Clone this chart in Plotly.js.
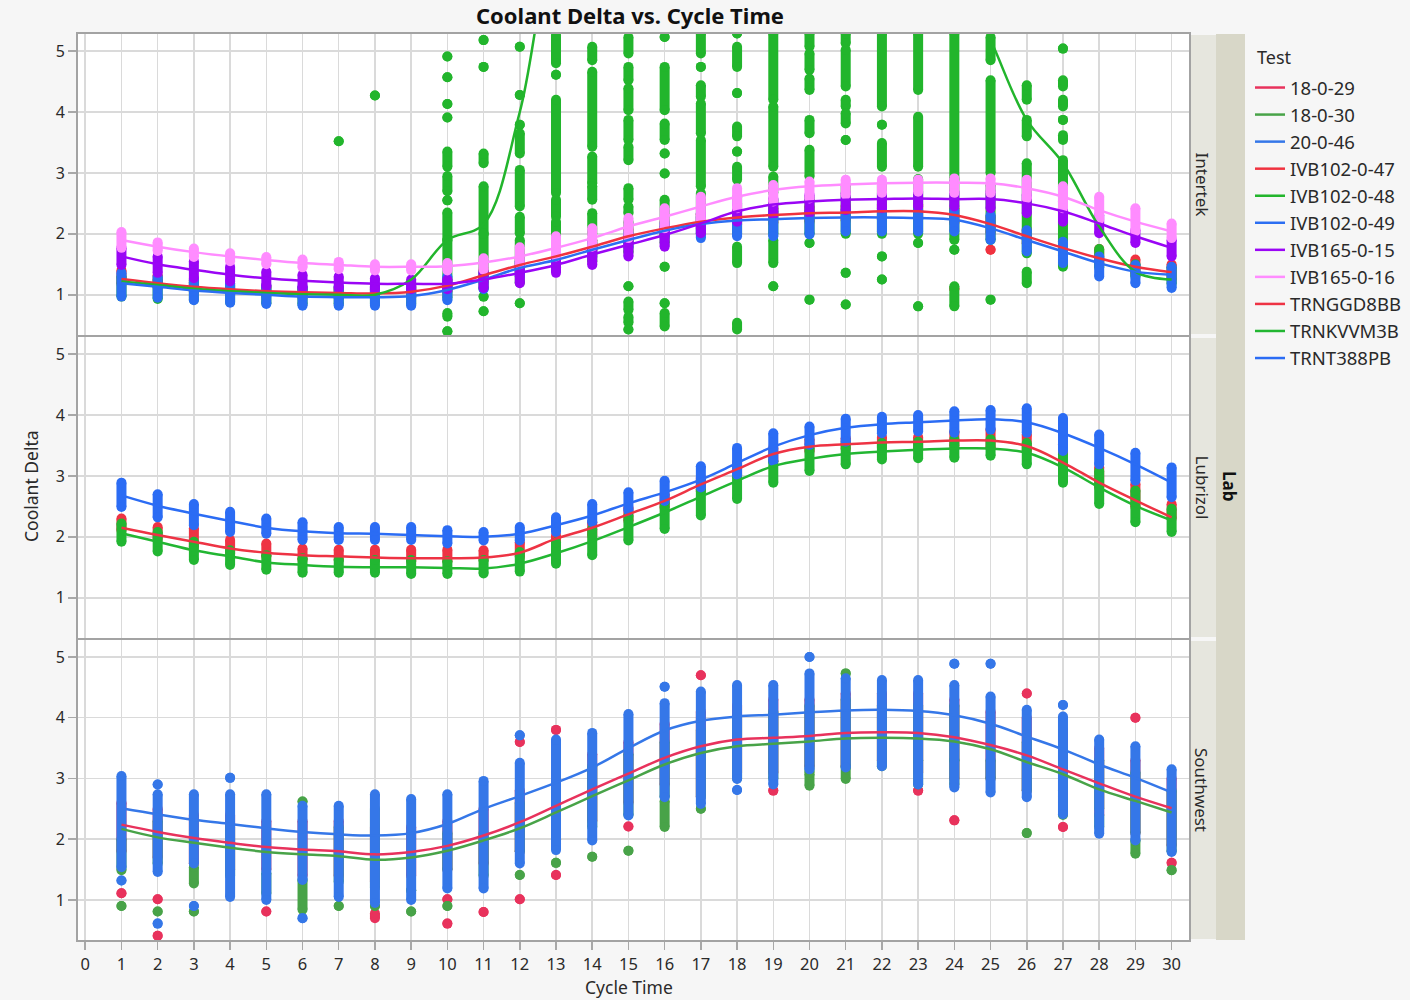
<!DOCTYPE html>
<html>
<head>
<meta charset="utf-8">
<script src="https://cdn.plot.ly/plotly-3.0.1.min.js"></script>
<style>html,body{margin:0;padding:0;background:#f6f6f6;}#chart{width:1410px;height:1000px;}</style>
</head>
<body>
<div id="chart"></div>
<script>
// ---------- DATA ----------
const cycles = [1,2,3,4,5,6,7,8,9,10,11,12,13,14,15,16,17,18,19,20,21,22,23,24,25,26,27,28,29,30];
const xTicks = [0,1,2,3,4,5,6,7,8,9,10,11,12,13,14,15,16,17,18,19,20,21,22,23,24,25,26,27,28,29,30];
const yTicks = [1,2,3,4,5];
const labs = ['Intertek','Lubrizol','Southwest'];
const tests = ['18-0-29','18-0-30','20-0-46','IVB102-0-47','IVB102-0-48','IVB102-0-49','IVB165-0-15','IVB165-0-16','TRNGGD8BB','TRNKVVM3B','TRNT388PB'];
const testLab = ['Southwest','Southwest','Southwest','Intertek','Intertek','Intertek','Intertek','Intertek','Lubrizol','Lubrizol','Lubrizol'];
const testColor = ['#e8325c','#48a348','#3577e8','#f0323f','#22b52c','#2b6ef2','#9a05f5','#ff8cff','#ee3344','#22b632','#2b6cf4'];

// smooth fit values at each cycle
const fit_18_0_29 = [2.24,2.12,2.02,1.94,1.87,1.83,1.80,1.75,1.79,1.89,2.06,2.28,2.55,2.82,3.08,3.34,3.53,3.64,3.67,3.70,3.75,3.76,3.75,3.68,3.55,3.38,3.15,2.92,2.70,2.51];
const fit_18_0_30 = [2.17,2.03,1.94,1.86,1.79,1.75,1.72,1.66,1.70,1.81,1.98,2.18,2.44,2.71,2.97,3.23,3.42,3.53,3.57,3.61,3.66,3.67,3.66,3.61,3.48,3.27,3.07,2.82,2.63,2.44];
const fit_20_0_46 = [2.51,2.41,2.32,2.25,2.18,2.12,2.08,2.06,2.10,2.25,2.50,2.71,2.93,3.18,3.50,3.79,3.95,4.02,4.05,4.09,4.12,4.13,4.11,4.04,3.90,3.69,3.48,3.23,3.01,2.77];
const fit_IVB102_0_47 = [1.26,1.19,1.13,1.09,1.06,1.04,1.03,1.02,1.05,1.15,1.32,1.49,1.63,1.79,1.96,2.09,2.20,2.27,2.31,2.34,2.35,2.37,2.37,2.31,2.16,1.96,1.77,1.60,1.46,1.37];
const fit_IVB102_0_48 = [1.22,1.16,1.10,1.06,1.03,1.01,1.00,1.00,1.25,1.90,2.16,4.00,6.80,7.60,7.90,8.00,8.10,8.10,8.00,7.90,7.80,7.60,7.20,6.40,5.18,3.87,3.16,2.12,1.38,1.25];
const fit_IVB102_0_49 = [1.19,1.13,1.07,1.03,1.00,0.97,0.96,0.96,0.98,1.08,1.25,1.44,1.57,1.74,1.90,2.05,2.16,2.22,2.24,2.26,2.27,2.27,2.26,2.23,2.09,1.90,1.71,1.52,1.38,1.33];
const fit_IVB165_0_15 = [1.63,1.50,1.41,1.33,1.27,1.23,1.20,1.18,1.18,1.18,1.25,1.36,1.49,1.66,1.82,1.98,2.17,2.37,2.48,2.53,2.56,2.57,2.58,2.57,2.57,2.50,2.37,2.17,1.96,1.77];
const fit_IVB165_0_16 = [1.90,1.79,1.70,1.63,1.57,1.52,1.49,1.46,1.46,1.47,1.53,1.63,1.77,1.93,2.12,2.28,2.45,2.61,2.72,2.78,2.81,2.83,2.84,2.84,2.83,2.75,2.61,2.39,2.20,2.04];
const fit_TRNGGD8BB = [2.15,2.03,1.92,1.81,1.74,1.70,1.68,1.66,1.65,1.65,1.66,1.74,1.97,2.15,2.37,2.59,2.86,3.11,3.36,3.48,3.52,3.55,3.56,3.58,3.58,3.49,3.22,2.89,2.60,2.32];
const fit_TRNKVVM3B = [2.06,1.92,1.78,1.68,1.58,1.54,1.51,1.50,1.50,1.49,1.48,1.56,1.73,1.93,2.16,2.40,2.66,2.92,3.16,3.28,3.36,3.40,3.43,3.45,3.45,3.38,3.14,2.81,2.51,2.27];
const fit_TRNT388PB = [2.68,2.51,2.38,2.26,2.15,2.09,2.06,2.05,2.03,2.01,2.00,2.05,2.19,2.35,2.55,2.73,2.94,3.21,3.48,3.67,3.79,3.85,3.88,3.91,3.93,3.88,3.70,3.46,3.19,2.89];

// observed points per cycle: each [lo,hi] is a stack of overlapping dots, [v] a single dot
const pts_18_0_29 = [[[1.8,2.6],[1.11]],[[1.7,2.5],[1.01],[0.41]],[[1.6,2.4]],[[1.5,2.4]],[[1.5,2.3],[0.81]],[[1.4,2.3]],[[1.4,2.3]],[[1.3,2.2],[0.70,0.78]],[[1.4,2.2]],[[1.5,2.3],[1.01],[0.61]],
 [[1.6,2.5],[0.80]],[[3.60],[1.8,2.8],[1.01]],[[3.80],[2.0,3.1],[1.93],[1.41]],[[2.3,3.4]],[[2.6,3.6],[2.21]],[[2.9,3.9]],[[4.70],[2.7,4.1]],[[3.1,4.2]],[[2.80],[3.1,4.3]],[[3.2,4.3]],
 [[3.2,4.4]],[[3.3,4.4]],[[2.80],[3.1,4.4]],[[2.31],[3.0,4.3]],[[3.0,4.1]],[[4.40],[2.8,4.0]],[[2.20],[2.6,3.8]],[[2.4,3.5]],[[4.00],[2.1,3.3]],[[1.61],[1.9,3.0]]];
const pts_18_0_30 = [[[1.49,2.0],[0.90]],[[1.6,2.3],[0.81]],[[1.27,1.54],[0.81]],[[1.4,2.2]],[[1.11,1.44]],[[2.62],[0.84,1.33]],[[0.90],[1.3,2.2]],[[0.90],[1.2,2.5]],[[1.16],[0.81]],[[0.90],[1.5,2.1]],
 [[1.4,2.1]],[[1.41],[1.8,2.6]],[[1.61],[2.0,2.9]],[[1.71],[2.2,3.2]],[[1.81],[2.4,3.4]],[[2.20,2.63],[2.7,3.6]],[[2.50],[2.7,3.8]],[[3.0,4.0]],[[3.0,4.1]],[[2.88,3.07],[3.1,4.2]],
 [[4.73],[2.99,3.18],[3.2,4.3]],[[3.2,4.2]],[[2.9,3.3],[3.3,4.2]],[[2.9,3.3],[3.3,4.2]],[[3.0,3.3]],[[2.10],[2.8,3.6]],[[2.4,2.7],[2.8,3.5]],[[2.2,2.4],[2.5,3.3]],[[1.76,1.98],[2.1,3.1]],[[1.49],[1.8,2.8]]];
const pts_20_0_46 = [[[1.54,3.04],[1.32]],[[2.90],[1.46,2.74],[0.61]],[[1.60,2.74],[0.90]],[[3.01],[1.05,2.74]],[[1.00,2.74]],[[1.33,2.55],[0.70]],[[1.05,2.55]],[[0.95,2.74]],[[1.00,2.66]],[[1.19,2.74]],
 [[1.19,2.96]],[[3.71],[1.60,3.26]],[[1.82,3.64]],[[1.98,3.75]],[[2.39,4.06]],[[4.51],[2.69,4.24]],[[2.58,4.43]],[[2.99,4.54],[2.81]],[[2.90,4.54]],[[5.00],[3.15,4.73]],
 [[3.18,4.65]],[[3.20,4.62]],[[2.90,4.62]],[[4.89],[2.85,4.54]],[[4.89],[2.77,4.35]],[[2.69,4.13]],[[4.21],[2.41,4.02]],[[2.09,3.64]],[[1.98,3.53]],[[1.79,3.15]]];
const pts_IVB102_0_47 = [[[1.18,1.40]],[[1.12,1.32]],[[1.05,1.24]],[[1.00,1.18]],[[0.98,1.15]],[[0.96,1.12]],[[0.95,1.12]],[[0.94,1.12]],[[0.96,1.14]],[[1.05,1.25]],
 [[1.20,1.42]],[[1.38,1.60]],[[1.52,1.74]],[[1.68,1.90]],[[1.85,2.08]],[[1.98,2.20]],[[2.08,2.32]],[[2.15,2.40]],[[2.18,2.42]],[[2.20,2.45]],
 [[2.22,2.46]],[[2.24,2.48]],[[2.24,2.48]],[[2.18,2.42],[1.10]],[[2.02,2.28],[1.74]],[[1.84,2.08]],[[1.65,1.88]],[[1.48,1.75]],[[1.35,1.58]],[[1.25,1.50]]];
const pts_IVB102_0_48 = [[[0.97,1.30]],[[0.93,1.25]],[[0.92,1.20]],[[0.88,1.15]],[[0.86,1.12]],[[0.85,1.10]],[[0.85,1.10],[3.52]],[[0.85,1.10],[4.27]],[[0.85,1.12]],
 [[4.91],[4.57],[4.13],[3.91],[3.10,3.35],[2.70,2.95],[2.55],[1.90,2.35],[0.95,1.90],[0.64,0.70],[0.40]],
 [[5.18],[4.74],[3.16,3.32],[2.00,2.78],[1.10,2.00],[0.97],[0.73]],
 [[5.07],[4.28],[3.79],[3.32,3.65],[2.45,3.05],[2.01,2.28],[1.20,1.90],[0.86]],
 [[4.80,5.26],[4.61],[2.67,4.20],[2.28,2.56],[1.45,2.20]],
 [[4.85,5.07],[3.43,4.66],[2.83,3.27],[2.56,2.78],[2.00,2.34],[1.55,1.90]],
 [[4.96,5.23],[4.52,4.74],[4.03,4.39],[3.54,3.87],[3.21,3.43],[2.56,2.75],[2.34,2.45],[1.70,2.20],[1.14],[0.75,0.89],[0.54,0.64],[0.43]],
 [[5.23],[4.03,4.74],[3.54,3.81],[3.32],[2.99],[2.10,2.56],[1.85,2.00],[1.46],[0.86],[0.48,0.70]],
 [[4.96,5.29],[4.74],[4.25,4.44],[3.65,4.14],[2.78,3.54],[2.00,2.67]],
 [[5.29],[4.74,5.07],[4.31],[3.60,3.76],[3.35],[2.89,3.10],[2.00,2.60],[1.52,1.79],[0.43,0.54]],
 [[4.20,5.29],[3.10,4.09],[2.67,2.94],[2.00,2.56],[1.52,1.90],[1.14]],
 [[5.07,5.29],[4.69,4.96],[4.36,4.55],[3.65,3.87],[2.94,3.38],[2.00,2.60],[1.85],[0.92]],
 [[5.13,5.29],[4.42,5.02],[4.09,4.20],[3.81,3.98],[3.54],[2.00,2.80],[1.36],[0.84]],
 [[4.09,5.29],[3.79],[3.10,3.49],[2.00,2.80],[1.63],[1.25]],
 [[4.36,5.29],[3.10,3.92],[2.00,2.90],[1.85],[0.81]],
 [[2.90,5.29],[1.90,2.90],[1.74],[0.81,1.14]],
 [[4.85,5.23],[3.00,4.52],[1.90,2.80],[0.92]],
 [[4.20,4.44],[3.60,3.87],[1.68,3.16],[1.19,1.38]],
 [[5.04],[4.42,4.52],[4.09,4.20],[3.87],[3.54,3.62],[1.46,3.21]],
 [[1.45,1.75]],[[1.30,1.50]],[[1.18,1.45]]];
const pts_IVB102_0_49 = [[[0.97,1.36]],[[0.95,1.30]],[[0.91,1.25]],[[0.87,1.19]],[[0.85,1.16]],[[0.82,1.14]],[[0.82,1.14]],[[0.82,1.14]],[[0.82,1.16]],[[0.91,1.30]],
 [[1.09,1.36]],[[1.30,1.55]],[[1.45,1.68]],[[1.62,1.85]],[[1.78,2.02]],[[1.95,2.18]],[[1.93,2.28]],[[1.96,2.31]],[[1.96,2.37]],[[1.99,2.37]],
 [[2.04,2.39]],[[2.04,2.39]],[[2.04,2.39]],[[2.04,2.39]],[[1.90,2.31]],[[1.71,2.06]],[[1.52,1.87]],[[1.30,1.63]],[[1.19,1.49]],[[1.11,1.46]]];
const pts_IVB165_0_15 = [[[1.49,1.77]],[[1.36,1.63]],[[1.27,1.55]],[[1.22,1.46]],[[1.14,1.38]],[[1.11,1.33]],[[1.11,1.30]],[[1.09,1.27]],[[1.09,1.25]],[[1.09,1.25]],
 [[1.11,1.38]],[[1.19,1.52]],[[1.36,1.63]],[[1.49,1.79]],[[1.63,1.96]],[[1.79,2.12]],[[2.01,2.34]],[[2.20,2.50]],[[2.31,2.58]],[[2.34,2.64]],
 [[2.39,2.67]],[[2.42,2.67]],[[2.45,2.69]],[[2.45,2.69]],[[2.42,2.69]],[[2.34,2.64]],[[2.20,2.53]],[[2.01,2.31]],[[1.85,2.06]],[[1.63,1.90]]];
const pts_IVB165_0_16 = [[[1.77,2.03]],[[1.72,1.86]],[[1.62,1.76]],[[1.55,1.68]],[[1.50,1.62]],[[1.45,1.58]],[[1.42,1.54]],[[1.40,1.50]],[[1.40,1.50]],[[1.40,1.52]],
 [[1.41,1.60]],[[1.50,1.78]],[[1.63,1.96]],[[1.79,2.09]],[[1.93,2.26]],[[2.09,2.42]],[[2.23,2.61]],[[2.42,2.75]],[[2.53,2.80]],[[2.58,2.86]],
 [[2.64,2.89]],[[2.67,2.89]],[[2.69,2.89]],[[2.67,2.91]],[[2.67,2.91]],[[2.58,2.89]],[[2.42,2.78]],[[2.23,2.61]],[[2.04,2.42]],[[1.93,2.17]]];
const pts_TRNGGD8BB = [[[2.11,2.30]],[[1.97,2.16]],[[1.84,2.14]],[[1.73,1.95]],[[1.68,1.89]],[[1.62,1.81]],[[1.62,1.79]],[[1.62,1.79]],[[1.60,1.79]],[[1.60,1.79]],
 [[1.62,1.78]],[[1.67,1.91]],[[1.86,2.02]],[[2.02,2.24]],[[2.26,2.48]],[[2.48,2.70]],[[2.75,2.97]],[[3.00,3.22]],[[3.24,3.46]],[[3.40,3.60]],
 [[3.44,3.62]],[[3.46,3.64]],[[3.46,3.64]],[[3.49,3.73]],[[3.46,3.76]],[[3.41,3.68]],[[3.08,3.52]],[[2.81,3.14]],[[2.49,2.87]],[[2.30,2.54]]];
const pts_TRNKVVM3B = [[[1.92,2.22]],[[1.76,2.08]],[[1.62,1.92]],[[1.54,1.78]],[[1.46,1.70]],[[1.41,1.65]],[[1.41,1.62]],[[1.41,1.62]],[[1.39,1.62]],[[1.39,1.60]],
 [[1.40,1.62]],[[1.43,1.75]],[[1.56,1.91]],[[1.70,2.13]],[[1.94,2.35]],[[2.13,2.56]],[[2.35,2.78]],[[2.62,3.02]],[[2.89,3.24]],[[3.08,3.46]],
 [[3.19,3.54]],[[3.27,3.54]],[[3.29,3.56]],[[3.30,3.60]],[[3.33,3.60]],[[3.19,3.54]],[[2.89,3.35]],[[2.54,3.08]],[[2.24,2.76]],[[2.08,2.46]]];
const pts_TRNT388PB = [[[2.49,2.89]],[[2.32,2.70]],[[2.19,2.54]],[[2.08,2.41]],[[2.05,2.30]],[[1.95,2.24]],[[1.95,2.16]],[[1.95,2.16]],[[1.95,2.16]],[[1.89,2.11]],
 [[1.94,2.08]],[[1.94,2.16]],[[2.08,2.32]],[[2.24,2.54]],[[2.43,2.73]],[[2.59,2.92]],[[2.81,3.16]],[[3.02,3.46]],[[3.24,3.70]],[[3.51,3.81]],
 [[3.56,3.94]],[[3.70,3.97]],[[3.73,4.00]],[[3.71,4.06]],[[3.76,4.08]],[[3.71,4.11]],[[3.41,3.95]],[[3.19,3.68]],[[2.92,3.38]],[[2.65,3.14]]];

const fits = [fit_18_0_29,fit_18_0_30,fit_20_0_46,fit_IVB102_0_47,fit_IVB102_0_48,fit_IVB102_0_49,fit_IVB165_0_15,fit_IVB165_0_16,fit_TRNGGD8BB,fit_TRNKVVM3B,fit_TRNT388PB];
const pts = [pts_18_0_29,pts_18_0_30,pts_20_0_46,pts_IVB102_0_47,pts_IVB102_0_48,pts_IVB102_0_49,pts_IVB165_0_15,pts_IVB165_0_16,pts_TRNGGD8BB,pts_TRNKVVM3B,pts_TRNT388PB];

// ---------- GEOMETRY ----------
const FONT = 'Noto Sans, Open Sans, DejaVu Sans, sans-serif';
const W = 1410, H = 1000, L = 78, R = 1189, T = 34, B = 940;
const pw = R - L, ph = B - T;
const px = v => (v - L) / pw;           // pixel -> paper x
const py = v => (B - v) / ph;           // pixel -> paper y
const panelPx = [[34,335],[337,638],[640,940]];
const axisFor = {Intertek:['x3','y'], Lubrizol:['x2','y2'], Southwest:['x','y3']};

// ---------- TRACES ----------
const traces = [];
tests.forEach((t, k) => {
  const [xa, ya] = axisFor[testLab[k]];
  const xs = [], ys = [];
  pts[k].forEach((list, i) => {
    list.forEach(s => { xs.push(cycles[i], cycles[i], null); ys.push(s[0], s[s.length-1], null); });
  });
  traces.push({type:'scatter', mode:'lines+markers', x:xs, y:ys, xaxis:xa, yaxis:ya,
    line:{color:testColor[k], width:10}, marker:{color:testColor[k], size:10, line:{width:0}},
    showlegend:false, hoverinfo:'skip'});
});
tests.forEach((t, k) => {
  const [xa, ya] = axisFor[testLab[k]];
  traces.push({type:'scatter', mode:'lines', x:cycles, y:fits[k], xaxis:xa, yaxis:ya, name:t,
    line:{color:testColor[k], width:2.5, shape:'spline', smoothing:1}, showlegend:true});
});

// ---------- LAYOUT ----------
const yBase = {range:[0.34,5.28], tickvals:yTicks, ticks:'outside', ticklen:8, tickwidth:1.5, tickcolor:'#a8a8a8',
  showgrid:true, gridcolor:'#dadada', gridwidth:1.5, zeroline:false, showline:true, mirror:true,
  linecolor:'#a3a3a3', linewidth:2, tickfont:{family:FONT, size:16, color:'#2a2a2a'}, fixedrange:true};
const xBase = {range:[-0.2,30.48], tickvals:xTicks, showgrid:true, gridcolor:'#dadada', gridwidth:1.5,
  zeroline:false, showline:true, mirror:true, linecolor:'#a3a3a3', linewidth:2, fixedrange:true};

const dom = panelPx.map(p => [py(p[1]), py(p[0])]);
const shapes = [];
panelPx.forEach(p => {
  shapes.push({type:'rect', xref:'paper', yref:'paper', x0:px(1190), x1:px(1216), y0:py(p[1]-1), y1:py(p[0]+1),
    fillcolor:'#e6e6de', line:{width:0}, layer:'below'});
});
shapes.push({type:'rect', xref:'paper', yref:'paper', x0:px(1216), x1:px(1245), y0:0, y1:1,
  fillcolor:'#d8d7c8', line:{width:0}, layer:'below'});

const annotations = [];
labs.forEach((lab, i) => {
  const p = panelPx[i];
  annotations.push({text:lab, xref:'paper', yref:'paper', x:px(1202), y:py((p[0]+p[1])/2), showarrow:false,
    textangle:90, font:{family:FONT, size:17, color:'#2a2a2a'}, xanchor:'center', yanchor:'middle'});
});
annotations.push({text:'<b>Lab</b>', xref:'paper', yref:'paper', x:px(1230), y:py(486), showarrow:false,
  textangle:90, font:{family:FONT, size:17, color:'#111'}, xanchor:'center', yanchor:'middle'});
annotations.push({text:'Coolant Delta', xref:'paper', yref:'paper', x:px(31), y:py(486), showarrow:false,
  textangle:-90, font:{family:FONT, size:17.5, color:'#2a2a2a'}, xanchor:'center', yanchor:'middle'});
annotations.push({text:'Cycle Time', xref:'paper', yref:'paper', x:px(629), y:py(987), showarrow:false,
  font:{family:FONT, size:17.5, color:'#2a2a2a'}, xanchor:'center', yanchor:'middle'});
annotations.push({text:'Test', xref:'paper', yref:'paper', x:px(1255), y:py(57), showarrow:false,
  font:{family:FONT, size:18, color:'#2a2a2a'}, xanchor:'left', yanchor:'middle'});

const layout = {
  width:W, height:H, margin:{l:L, r:W-R, t:T, b:H-B, pad:0, autoexpand:false},
  paper_bgcolor:'#f6f6f6', plot_bgcolor:'#ffffff',
  font:{family:FONT, color:'#2a2a2a'},
  title:{text:'<b>Coolant Delta vs. Cycle Time</b>', x:px(630), xref:'paper', xanchor:'center', y:1-16/H, yanchor:'middle',
    font:{family:FONT, size:22, color:'#111'}},
  xaxis:Object.assign({}, xBase, {anchor:'y3', domain:[0,1], ticks:'outside', ticklen:8, tickwidth:1.5, tickcolor:'#a8a8a8',
    tickfont:{family:FONT, size:16.5, color:'#2a2a2a'}}),
  xaxis2:Object.assign({}, xBase, {anchor:'y2', domain:[0,1], matches:'x', showticklabels:false, ticks:''}),
  xaxis3:Object.assign({}, xBase, {anchor:'y', domain:[0,1], matches:'x', showticklabels:false, ticks:''}),
  yaxis:Object.assign({}, yBase, {domain:dom[0], anchor:'x3'}),
  yaxis2:Object.assign({}, yBase, {domain:dom[1], anchor:'x2'}),
  yaxis3:Object.assign({}, yBase, {domain:dom[2], anchor:'x'}),
  showlegend:true,
  legend:{x:px(1250), xanchor:'left', y:py(69), yanchor:'top', bgcolor:'rgba(0,0,0,0)', borderwidth:0,
    font:{family:FONT, size:18.5, color:'#2a2a2a'}, tracegroupgap:0, itemclick:false, itemdoubleclick:false, traceorder:'normal'},
  shapes:shapes, annotations:annotations
};

Plotly.newPlot('chart', traces, layout, {displayModeBar:false, staticPlot:true});
</script>
</body>
</html>
